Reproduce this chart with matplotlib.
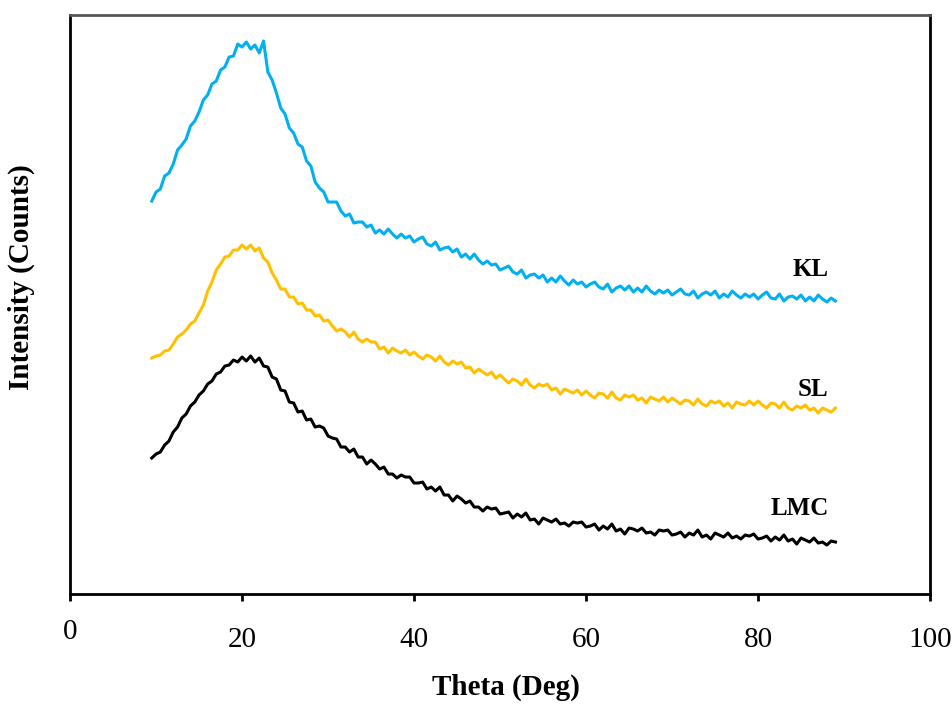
import numpy as np
import matplotlib
matplotlib.use('Agg')
import matplotlib.pyplot as plt
from matplotlib.transforms import ScaledTranslation

plt.rcParams['font.family'] = ['Liberation Serif', 'DejaVu Serif']

# XRD patterns, 2-theta from 9.5 to 89 deg in 0.5 deg steps (arbitrary counts)
theta_start = 9.5
theta_step = 0.5

kl = [393, 402, 405, 418, 421, 430, 444, 449, 455, 468, 473, 482, 494, 499, 510, 513,
      524, 527, 537, 538, 550, 547, 552, 545, 549, 541, 553, 522, 514, 501, 486, 480,
      466, 461, 450, 447, 433, 428, 412, 406,
      402, 392, 392, 392, 383, 378, 380, 371, 372, 372, 367, 369, 361, 364, 360, 365,
      360, 356, 360, 356, 358, 352, 355, 357, 350, 348, 352, 344, 346, 347, 342, 345,
      337, 340, 335, 340, 334, 330, 333, 329, 330, 324, 326, 328, 322, 320, 324, 316,
      319, 320, 316, 319, 312, 316, 312, 318, 313, 309, 314, 310, 312, 307, 310, 312,
      307, 305, 310, 302, 306, 308, 304, 308, 302, 306, 302, 308, 303, 300, 304, 301,
      304, 299, 302, 305, 300, 299, 303, 296, 300, 302, 299, 303, 296, 300, 297, 303,
      299, 296, 300, 297, 300, 295, 299, 302, 296, 295, 300, 293, 297, 298, 295, 299,
      293, 297, 293, 299, 295, 292, 296, 293]

sl = [236, 238, 239, 243, 244, 250, 257, 260, 264, 270, 273, 281, 289, 303, 312, 324,
      330, 337, 338, 344, 344, 349, 345, 349, 343, 346, 336, 332, 321, 314, 305, 305,
      297, 297, 290, 291, 284, 284, 278, 279,
      273, 274, 268, 263, 265, 262, 257, 262, 255, 252, 255, 252, 252, 245, 247, 241,
      246, 243, 241, 244, 239, 242, 238, 235, 239, 237, 233, 238, 232, 229, 233, 230,
      232, 226, 227, 221, 225, 222, 219, 222, 216, 219, 215, 211, 215, 213, 209, 215,
      209, 206, 210, 208, 210, 204, 206, 200, 205, 203, 201, 204, 199, 203, 199, 196,
      201, 200, 196, 202, 196, 194, 199, 197, 199, 194, 196, 191, 197, 195, 193, 197,
      192, 196, 193, 190, 194, 193, 189, 195, 190, 188, 193, 191, 193, 188, 191, 186,
      192, 190, 189, 193, 189, 193, 189, 186, 191, 190, 186, 192, 186, 184, 188, 186,
      189, 184, 186, 181, 186, 184, 182, 186]

lmc = [136, 140, 142, 149, 153, 162, 167, 176, 180, 188, 192, 199, 203, 210, 213, 220,
       222, 228, 229, 234, 232, 237, 233, 238, 232, 236, 228, 227, 217, 215, 204, 203,
       192, 191, 182, 183, 174, 175, 167, 168,
       166, 158, 156, 155, 147, 147, 142, 145, 137, 137, 130, 134, 130, 125, 127, 120,
       120, 116, 119, 117, 117, 111, 111, 112, 105, 107, 103, 107, 99, 99, 93, 98,
       95, 91, 93, 87, 87, 83, 87, 85, 86, 80, 81, 82, 76, 80, 77, 81,
       74, 75, 70, 76, 74, 72, 75, 70, 71, 68, 72, 71, 72, 67, 68, 70,
       64, 68, 65, 70, 63, 65, 60, 66, 65, 63, 66, 61, 62, 59, 64, 63,
       64, 59, 60, 62, 57, 61, 59, 64, 57, 59, 55, 61, 59, 57, 61, 56,
       58, 55, 59, 58, 60, 55, 56, 58, 53, 57, 54, 59, 53, 55, 50, 56,
       54, 52, 56, 51, 52, 49, 53, 52]

series = [('KL', kl, '#00B0F0', 325), ('SL', sl, '#FFC000', 205), ('LMC', lmc, '#000000', 86)]
xticks = [0, 20, 40, 60, 80, 100]

fig = plt.figure(figsize=(9.53, 7.05), dpi=100)
ax = fig.add_axes([0.0735, 0.1574, 0.9024, 0.8213])

for name, vals, col, label_y in series:
    th = theta_start + theta_step * np.arange(len(vals))
    ax.plot(th, vals, color=col, lw=2.2)
    ax.text(88.2, label_y, name, ha='right', va='center', fontsize=18, fontweight='bold')

ax.set_xlim(0, 100)
ax.set_ylim(0, 579)
ax.set_xticks(xticks)
ax.set_yticks([])
ax.tick_params(axis='x', direction='out', length=5, width=2, pad=19, labelsize=21)

for side in ['left', 'right', 'bottom']:
    ax.spines[side].set_linewidth(2)
    ax.spines[side].set_color('black')
ax.spines['top'].set_linewidth(2)
ax.spines['top'].set_color('#555555')

# the "0" label sits a little higher in the original
lab0 = ax.get_xticklabels()[0]
lab0.set_transform(lab0.get_transform() + ScaledTranslation(0, 6 / 72, fig.dpi_scale_trans))

ax.set_xlabel('Theta (Deg)', fontsize=21, fontweight='bold')
ax.xaxis.set_label_coords(0.507, -0.138)
ax.set_ylabel('Intensity (Counts)', fontsize=21, fontweight='bold')
ax.yaxis.set_label_coords(-0.041, 0.547)

fig.savefig('out.png', dpi=100)
